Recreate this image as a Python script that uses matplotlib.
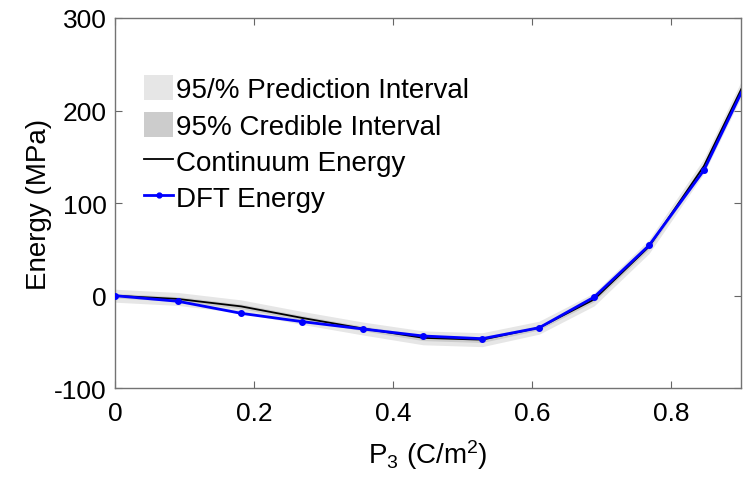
import matplotlib
matplotlib.use("Agg")
import matplotlib.pyplot as plt
import numpy as np
from matplotlib.patches import Patch
from matplotlib.lines import Line2D

plt.rcParams['font.family'] = ['Liberation Sans', 'DejaVu Sans']
plt.rcParams['mathtext.fontset'] = 'custom'
plt.rcParams['mathtext.rm'] = 'Liberation Sans'
plt.rcParams['mathtext.it'] = 'Liberation Sans'

# data
p3 = [0.0, 0.090, 0.181, 0.269, 0.357, 0.443, 0.528, 0.610, 0.689, 0.768, 0.847, 0.926]
dft_energy = [0.0, -6.0, -19.0, -28.0, -36.0, -43.5, -46.4, -34.6, -1.5, 54.3, 135.5, 258.5]
continuum_energy = [0.0, -3.5, -11.5, -24.0, -35.5, -45.5, -47.5, -34.5, -4.0, 53.0, 140.0, 262.0]
pred_halfwidth = [7.0, 7.0, 7.0, 7.0, 7.0, 7.5, 7.5, 7.0, 7.0, 7.5, 8.0, 9.0]
cred_halfwidth = [2.5, 2.5, 2.5, 2.5, 2.5, 3.0, 3.0, 2.5, 2.5, 3.0, 3.5, 4.0]

xticks = [0, 0.2, 0.4, 0.6, 0.8]
yticks = [-100, 0, 100, 200, 300]

x = np.array(p3)
c = np.array(continuum_energy)
pw = np.array(pred_halfwidth)
cw = np.array(cred_halfwidth)

fig = plt.figure(figsize=(7.44, 4.81), dpi=100)
ax = fig.add_axes([115.3 / 744, 1 - 389.3 / 481, 625.4 / 744, 370.3 / 481])

light = (0.9, 0.9, 0.9)
dark = (0.8, 0.8, 0.8)
ax.fill_between(x, c - pw, c + pw, color=light, lw=0, zorder=1)
ax.fill_between(x, c - cw, c + cw, color=dark, lw=0, zorder=2)
ax.plot(x, c, color='black', lw=1.3, zorder=3)
ax.plot(x, dft_energy, color=(0, 0, 1), lw=2.0, marker='.', ms=8, zorder=4)

ax.set_xlim(0, 0.9)
ax.set_ylim(-100, 300)
ax.set_xticks(xticks)
ax.set_xticklabels(['0', '0.2', '0.4', '0.6', '0.8'])
ax.set_yticks(yticks)
ax.set_yticklabels([str(v) for v in yticks])
ax.tick_params(direction='in', length=5, width=0.8, color=(0.4, 0.4, 0.4),
               labelsize=19, top=True, right=True)
ax.tick_params(axis='x', pad=9)
ax.tick_params(axis='y', pad=6)
for s in ax.spines.values():
    s.set_color((0.45, 0.45, 0.45))
    s.set_linewidth(1.0)

ax.set_xlabel('P$_3$ (C/m$^2$)', fontsize=20, labelpad=9)
ax.set_ylabel('Energy (MPa)', fontsize=20, labelpad=2)

handles = [
    Patch(facecolor=light, edgecolor='none'),
    Patch(facecolor=dark, edgecolor='none'),
    Line2D([], [], color='black', lw=1.3),
    Line2D([], [], color=(0, 0, 1), lw=2.0, marker='.', ms=7),
]
labels = ['95/% Prediction Interval', '95% Credible Interval',
          'Continuum Energy', 'DFT Energy']
leg = ax.legend(handles, labels, loc='upper left', bbox_to_anchor=(0.046, 0.845),
                frameon=False, fontsize=20, borderpad=0, borderaxespad=0,
                handlelength=1.05, handleheight=1.0, handletextpad=0.1,
                labelspacing=0.3)

fig.savefig('out.png', dpi=100)
